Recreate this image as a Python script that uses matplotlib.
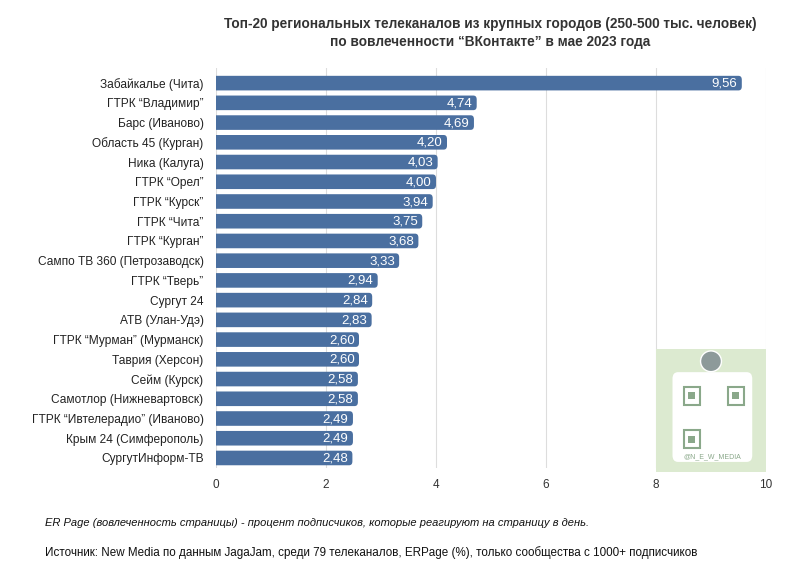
import matplotlib.pyplot as plt
from matplotlib.patches import FancyBboxPatch, Rectangle, Ellipse
import numpy as np

plt.rcParams['font.family'] = ['Liberation Sans', 'DejaVu Sans']

channels = [
    "Забайкалье (Чита)", "ГТРК \u201cВладимир\u201d", "Барс (Иваново)", "Область 45 (Курган)",
    "Ника (Калуга)", "ГТРК \u201cОрел\u201d", "ГТРК \u201cКурск\u201d", "ГТРК \u201cЧита\u201d",
    "ГТРК \u201cКурган\u201d", "Сампо ТВ 360 (Петрозаводск)", "ГТРК \u201cТверь\u201d", "Сургут 24",
    "АТВ (Улан-Удэ)", "ГТРК \u201cМурман\u201d (Мурманск)", "Таврия (Херсон)", "Сейм (Курск)",
    "Самотлор (Нижневартовск)", "ГТРК \u201cИвтелерадио\u201d (Иваново)", "Крым 24 (Симферополь)",
    "СургутИнформ-ТВ",
]
er_page = [9.56, 4.74, 4.69, 4.20, 4.03, 4.00, 3.94, 3.75, 3.68, 3.33,
           2.94, 2.84, 2.83, 2.60, 2.60, 2.58, 2.58, 2.49, 2.49, 2.48]
xticks = [0, 2, 4, 6, 8, 10]

bar_color = "#4a6fa0"

fig = plt.figure(figsize=(8, 5.79), dpi=100)
ax = fig.add_axes([0.27, 0.192, 0.6875, 0.69])

y = np.arange(len(channels))
bars = ax.barh(y, er_page, height=0.74, color=bar_color, zorder=3)

# rounded right ends (left end hidden behind the axis edge)
for b in bars:
    b.set_visible(False)
    x0, y0, w, h = b.get_x(), b.get_y(), b.get_width(), b.get_height()
    ax.add_patch(FancyBboxPatch((x0 - 0.3, y0), w + 0.3, h,
                                boxstyle="round,pad=0,rounding_size=0.06",
                                mutation_aspect=1 / 0.3,
                                facecolor=bar_color, edgecolor="none", zorder=3))

for yi, v in zip(y, er_page):
    ax.text(v - 0.08, yi + 0.03, f"{v:.2f}".replace(".", ","), ha="right", va="center",
            color="white", fontsize=9.5, zorder=4)

ax.set_ylim(len(channels) - 0.5, -0.75)
ax.set_xlim(0, 10)
ax.set_yticks(y)
ax.set_yticklabels(channels, fontsize=8.6, color="#222222")
ax.set_xticks(xticks)
ax.set_xticklabels([str(t) for t in xticks], fontsize=8.5, color="#333333")
ax.tick_params(length=0, pad=9)
ax.tick_params(axis="x", pad=8)
ax.grid(axis="x", color="#dddddd", linewidth=0.8, zorder=0)
for s in ax.spines.values():
    s.set_visible(False)

# QR badge
ax.add_patch(Rectangle((8.0, 13.5), 2.0, 6.2, facecolor="#dcead0", edgecolor="none",
                       zorder=2, clip_on=False))
ax.add_patch(FancyBboxPatch((8.3, 14.65), 1.45, 4.55, boxstyle="round,pad=0,rounding_size=0.1",
                            mutation_aspect=1 / 0.3, facecolor="white", edgecolor="none", zorder=2))
ax.add_patch(Ellipse((9.0, 14.1), 0.38, 1.05, facecolor="#8d9a9a", edgecolor="white", linewidth=1,
                     zorder=3))
for qx, qy in [(8.5, 15.4), (9.3, 15.4), (8.5, 17.6)]:
    ax.add_patch(Rectangle((qx, qy), 0.3, 0.9, facecolor="none", edgecolor="#8aa88a",
                           linewidth=1.5, zorder=3))
    ax.add_patch(Rectangle((qx + 0.09, qy + 0.27), 0.12, 0.36, facecolor="#8aa88a",
                           edgecolor="none", zorder=3))
ax.text(9.03, 18.95, "@N_E_W_MEDIA", ha="center", va="center", fontsize=5, color="#8aa88a", zorder=3)

fig.text(0.613, 0.943, "Топ-20 региональных телеканалов из крупных городов (250-500 тыс. человек)\n"
         "по вовлеченности \u201cВКонтакте\u201d в мае 2023 года",
         ha="center", va="center", fontsize=9.8, fontweight="bold", color="#333333", linespacing=1.45)

fig.text(0.056, 0.097, "ER Page (вовлеченность страницы) - процент подписчиков, которые реагируют на страницу в день.",
         fontsize=8, style="italic", color="#111111", va="center")
fig.text(0.056, 0.045, "Источник: New Media по данным JagaJam, среди 79 телеканалов, ERPage (%), только сообщества с 1000+ подписчиков",
         fontsize=8.4, color="#111111", va="center")

fig.savefig("out.png", dpi=100)
